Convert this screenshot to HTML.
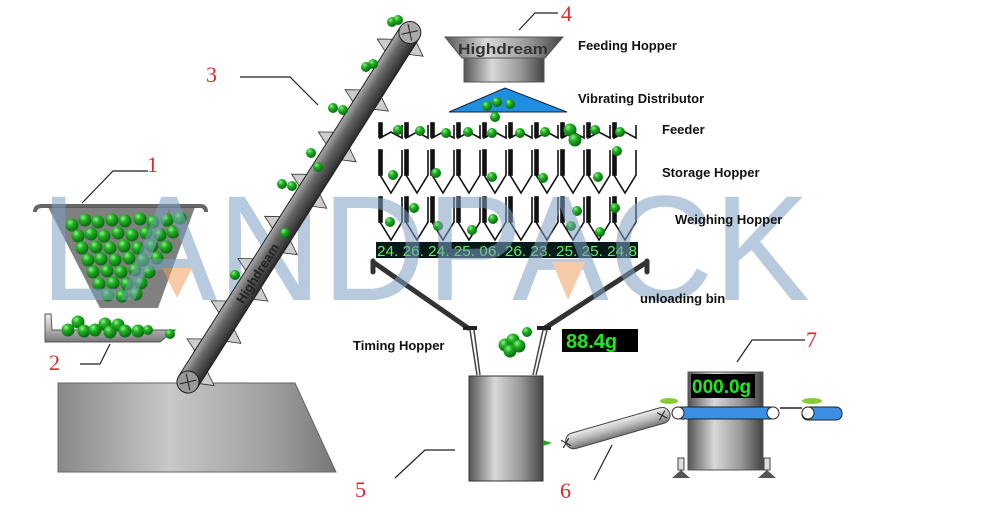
<!DOCTYPE html>
<html><head><meta charset="utf-8"><style>
html,body{margin:0;padding:0;background:#fff;}
svg{display:block;}
text{font-family:"Liberation Sans",sans-serif;}
.lab{font-size:13px;font-weight:bold;fill:#111;}
.num{font-family:"Liberation Serif",serif;font-size:22px;fill:#e0262a;}
</style></head><body>
<svg width="1000" height="507" viewBox="0 0 1000 507" xmlns="http://www.w3.org/2000/svg">
<defs>
<radialGradient id="ball" cx="0.35" cy="0.3" r="0.7"><stop offset="0" stop-color="#8cf58c"/><stop offset="0.4" stop-color="#22b022"/><stop offset="1" stop-color="#0a6a12"/></radialGradient>
<linearGradient id="gv" x1="0" x2="1" y1="0" y2="0"><stop offset="0" stop-color="#555"/><stop offset="0.35" stop-color="#d8d8d8"/><stop offset="0.7" stop-color="#999"/><stop offset="1" stop-color="#444"/></linearGradient>
<linearGradient id="gbase" x1="0" x2="1"><stop offset="0" stop-color="#888"/><stop offset="0.4" stop-color="#c8c8c8"/><stop offset="0.8" stop-color="#9a9a9a"/><stop offset="1" stop-color="#777"/></linearGradient>
<linearGradient id="gbar" x1="0" y1="0" x2="0" y2="1"><stop offset="0" stop-color="#aaa"/><stop offset="0.4" stop-color="#666"/><stop offset="1" stop-color="#2a2a2a"/></linearGradient>
<linearGradient id="gbar2" x1="0" y1="0" x2="0" y2="1"><stop offset="0" stop-color="#eee"/><stop offset="0.5" stop-color="#bbb"/><stop offset="1" stop-color="#777"/></linearGradient>
<g id="b"><circle r="5" fill="url(#ball)"/></g>
<g id="B"><circle r="6.5" fill="url(#ball)"/></g>
<g id="unit" fill="none" stroke="#111" stroke-width="1.6">
  <path d="M0,125 V138 L11,132 L22,138 V125"/>
  <rect x="-1" y="123" width="3" height="14" fill="#111"/>
  <path d="M0,150 V175 L11,193 L22,175 V150"/>
  <rect x="-1" y="150" width="3" height="25" fill="#111"/>
  <path d="M0,197 V222 L11,240 L22,222 V197"/>
  <rect x="-1" y="197" width="3" height="25" fill="#111"/>
</g>
</defs>

<!-- base platform -->
<polygon points="58,383 295,383 336,472 58,472" fill="url(#gbase)" stroke="#666"/>

<!-- hopper 1 -->
<path d="M35,212 Q35,206 42,206 L200,206 Q206,206 206,212" fill="none" stroke="#666" stroke-width="4"/>
<polygon points="48,207 195,207 158,308 100,308" fill="#555" opacity="0.75"/>
<g>
<use href="#B" x="72" y="225"/><use href="#B" x="85" y="220"/><use href="#B" x="98" y="222"/><use href="#B" x="112" y="220"/><use href="#B" x="125" y="221"/><use href="#B" x="140" y="219"/><use href="#B" x="153" y="222"/><use href="#B" x="167" y="220"/><use href="#B" x="180" y="218"/>
<use href="#B" x="78" y="236"/><use href="#B" x="91" y="234"/><use href="#B" x="104" y="236"/><use href="#B" x="118" y="233"/><use href="#B" x="132" y="235"/><use href="#B" x="146" y="233"/><use href="#B" x="160" y="235"/><use href="#B" x="173" y="232"/>
<use href="#B" x="82" y="248"/><use href="#B" x="96" y="247"/><use href="#B" x="110" y="248"/><use href="#B" x="124" y="246"/><use href="#B" x="138" y="248"/><use href="#B" x="152" y="246"/><use href="#B" x="166" y="247"/>
<use href="#B" x="88" y="260"/><use href="#B" x="101" y="259"/><use href="#B" x="115" y="260"/><use href="#B" x="129" y="258"/><use href="#B" x="143" y="260"/><use href="#B" x="157" y="258"/>
<use href="#B" x="93" y="272"/><use href="#B" x="107" y="271"/><use href="#B" x="121" y="272"/><use href="#B" x="135" y="270"/><use href="#B" x="149" y="272"/>
<use href="#B" x="99" y="284"/><use href="#B" x="113" y="283"/><use href="#B" x="127" y="284"/><use href="#B" x="141" y="283"/>
<use href="#B" x="108" y="295"/><use href="#B" x="122" y="296"/><use href="#B" x="136" y="294"/>
</g>
<polyline points="82,203 113,171 148,171" fill="none" stroke="#222" stroke-width="1.2"/>
<text class="num" x="147" y="172">1</text>

<!-- tray 2 -->
<polygon points="45,314 51,314 52,330 175,330 160,342 45,342" fill="url(#gbar2)" stroke="#555"/>
<use href="#B" x="68" y="330"/><use href="#B" x="78" y="322"/><use href="#B" x="84" y="331"/><use href="#B" x="95" y="330"/><use href="#B" x="105" y="324"/><use href="#B" x="110" y="332"/><use href="#B" x="118" y="325"/><use href="#B" x="125" y="331"/><use href="#B" x="138" y="331"/><use href="#b" x="148" y="330"/><use href="#b" x="170" y="334"/>
<polyline points="110,344 100,364 80,364" fill="none" stroke="#222" stroke-width="1.2"/>
<text class="num" x="49" y="370">2</text>

<!-- feeding hopper 4 -->
<polygon points="445,37 563,37 545,58 462,58" fill="url(#gv)" stroke="#555"/>
<text x="458" y="54" font-size="15" font-weight="bold" fill="#333" textLength="90" lengthAdjust="spacingAndGlyphs">Highdream</text>
<rect x="464" y="58" width="80" height="24" fill="url(#gv)" stroke="#555"/>
<polyline points="519,30 535,13 558,13" fill="none" stroke="#222" stroke-width="1.2"/>
<text class="num" x="561" y="21">4</text>
<polygon points="449,112 505,88 567,112" fill="#1e8fe0" stroke="#124"/>
<use href="#b" x="497" y="102"/><use href="#b" x="510" y="104"/><use href="#b" x="487" y="106"/><use href="#b" x="495" y="117"/>

<!-- hopper units -->
<use href="#unit" x="380"/><use href="#unit" x="406"/><use href="#unit" x="432"/><use href="#unit" x="458"/><use href="#unit" x="484"/><use href="#unit" x="510"/><use href="#unit" x="536"/><use href="#unit" x="562"/><use href="#unit" x="588"/><use href="#unit" x="614"/>
<g>
<use href="#b" x="398" y="130"/><use href="#b" x="420" y="131"/><use href="#b" x="446" y="133"/><use href="#b" x="468" y="132"/><use href="#b" x="492" y="133"/><use href="#b" x="520" y="133"/><use href="#b" x="545" y="132"/><use href="#B" x="570" y="130"/><use href="#B" x="575" y="140"/><use href="#b" x="595" y="130"/><use href="#b" x="620" y="132"/>
<use href="#b" x="393" y="175"/><use href="#b" x="436" y="173"/><use href="#b" x="492" y="177"/><use href="#b" x="543" y="178"/><use href="#b" x="598" y="177"/><use href="#b" x="617" y="151"/>
<use href="#b" x="390" y="222"/><use href="#b" x="414" y="208"/><use href="#b" x="438" y="226"/><use href="#b" x="493" y="219"/><use href="#b" x="472" y="230"/><use href="#b" x="571" y="226"/><use href="#b" x="577" y="211"/><use href="#b" x="615" y="208"/><use href="#b" x="600" y="232"/>
</g>
<!-- display -->
<rect x="376" y="242" width="262" height="16" fill="#061a1a"/>
<text x="377" y="256" font-family="Liberation Serif,serif" font-size="15" fill="#5ef05e" textLength="260" lengthAdjust="spacingAndGlyphs">24. 26. 24. 25. 06. 26. 23. 25. 25. 24.8</text>
<!-- unloading bin -->
<path d="M373,272 V261 M373,262 L468,328 M647,272 V261 M647,262 L545,328" fill="none" stroke="#333" stroke-width="5" stroke-linecap="round"/>
<rect x="463" y="326" width="14" height="4" fill="#222"/><rect x="537" y="326" width="14" height="4" fill="#222"/>
<path d="M470,330 L477,375 M474,330 L480,375 M543,330 L533,375 M547,330 L536,375" stroke="#444" stroke-width="1.5"/>
<use href="#B" x="505" y="345"/><use href="#B" x="513" y="340"/><use href="#B" x="510" y="351"/><use href="#B" x="519" y="346"/><use href="#b" x="527" y="332"/>

<!-- watermark, semi-transparent -->
<g opacity="0.55">
<text x="40" y="300" font-size="150" textLength="770" lengthAdjust="spacingAndGlyphs" fill="#7f9fc2">LANDPACK</text>
<polygon points="162,268 192,268 177,298" fill="#f0a060"/>
<polygon points="552,262 585,262 568,300" fill="#f0a060"/>
</g>

<!-- incline conveyor 3 (in front of watermark) -->
<g transform="translate(188,382) rotate(-57.6)">
  <g fill="#ccc" stroke="#333" stroke-width="0.8">
    <polygon points="30,-11 44,-11 36,-24"/><polygon points="75,-11 89,-11 81,-24"/><polygon points="125,-11 139,-11 131,-24"/><polygon points="175,-11 189,-11 181,-24"/><polygon points="225,-11 239,-11 231,-24"/><polygon points="275,-11 289,-11 281,-24"/><polygon points="325,-11 339,-11 331,-24"/><polygon points="385,-11 399,-11 391,-24"/>
    <polygon points="5,11 19,11 11,24"/><polygon points="55,11 69,11 61,24"/><polygon points="105,11 119,11 111,24"/><polygon points="160,11 174,11 166,24"/><polygon points="215,11 229,11 221,24"/><polygon points="270,11 284,11 276,24"/><polygon points="330,11 344,11 336,24"/><polygon points="395,11 409,11 401,24"/>
  </g>
  <rect x="0" y="-11" width="414" height="22" fill="url(#gbar)" stroke="#222"/>
  <circle cx="0" cy="0" r="11" fill="#999" stroke="#222"/><path d="M-6,-6 L6,6 M-6,6 L6,-6" stroke="#222"/>
  <circle cx="414" cy="0" r="11" fill="#aaa" stroke="#222"/><path d="M408,-6 L420,6 M408,6 L420,-6" stroke="#222"/>
  <text x="95" y="5" font-size="13" font-weight="bold" fill="#222">Highdream</text>
</g>
<use href="#b" x="235" y="275"/><use href="#b" x="282" y="184"/><use href="#b" x="292" y="186"/><use href="#b" x="311" y="153"/><use href="#b" x="333" y="108"/><use href="#b" x="343" y="110"/><use href="#b" x="373" y="64"/><use href="#b" x="366" y="67"/><use href="#b" x="392" y="22"/><use href="#b" x="398" y="20"/><use href="#b" x="285" y="233"/><use href="#b" x="318" y="167"/>
<polyline points="240,77 290,77 318,105" fill="none" stroke="#222" stroke-width="1.2"/>
<text class="num" x="206" y="82">3</text>

<!-- labels -->
<text class="lab" x="578" y="50">Feeding Hopper</text>
<text class="lab" x="578" y="103">Vibrating Distributor</text>
<text class="lab" x="662" y="134">Feeder</text>
<text class="lab" x="662" y="177">Storage Hopper</text>
<text class="lab" x="675" y="224">Weighing Hopper</text>
<text class="lab" x="640" y="303">unloading bin</text>
<text class="lab" x="353" y="350">Timing Hopper</text>

<rect x="562" y="329" width="76" height="23" fill="#000"/>
<text x="566" y="348" font-size="20" font-weight="bold" fill="#1ee81e">88.4g</text>

<!-- cylinder 5 -->
<rect x="469" y="376" width="74" height="105" fill="url(#gv)" stroke="#333"/>
<polygon points="543,440 552,443 543,446" fill="#2a2"/>
<polyline points="395,478 425,450 455,450" fill="none" stroke="#222" stroke-width="1.2"/>
<text class="num" x="355" y="497">5</text>

<!-- conveyor 6 -->
<g transform="translate(566,443) rotate(-16)">
  <rect x="0" y="-8" width="108" height="16" rx="8" fill="url(#gbar2)" stroke="#444"/>
  <path d="M-4,-4 L4,4 M-4,4 L4,-4 M96,-4 L104,4 M96,4 L104,-4" stroke="#333" stroke-width="1.2"/>
</g>
<line x1="612" y1="445" x2="594" y2="480" stroke="#222" stroke-width="1.2"/>
<text class="num" x="560" y="498">6</text>

<!-- machine 7 -->
<rect x="688" y="372" width="75" height="98" fill="url(#gv)" stroke="#555"/>
<rect x="691" y="374" width="64" height="24" fill="#000"/>
<text x="692" y="393" font-size="19" font-weight="bold" fill="#1ee81e">000.0g</text>
<rect x="676" y="407" width="100" height="12" rx="6" fill="#3d8fe6" stroke="#222"/>
<circle cx="678" cy="413" r="6" fill="#fff" stroke="#222"/><circle cx="773" cy="413" r="6" fill="#fff" stroke="#222"/>
<ellipse cx="669" cy="401" rx="9" ry="3" fill="#8c3"/>
<line x1="780" y1="408" x2="802" y2="408" stroke="#222" stroke-width="1.5"/>
<rect x="802" y="407" width="40" height="13" rx="6" fill="#3d8fe6" stroke="#222"/>
<circle cx="808" cy="413" r="6" fill="#fff" stroke="#222"/>
<ellipse cx="812" cy="401" rx="10" ry="3" fill="#8c3"/>
<rect x="678" y="458" width="6" height="12" fill="#ddd" stroke="#444"/><polygon points="672,478 690,478 681,470" fill="#555"/>
<rect x="764" y="458" width="6" height="12" fill="#ddd" stroke="#444"/><polygon points="758,478 776,478 767,470" fill="#555"/>
<polyline points="737,362 752,340 805,340" fill="none" stroke="#222" stroke-width="1.2"/>
<text class="num" x="806" y="347">7</text>
</svg>
</body></html>
